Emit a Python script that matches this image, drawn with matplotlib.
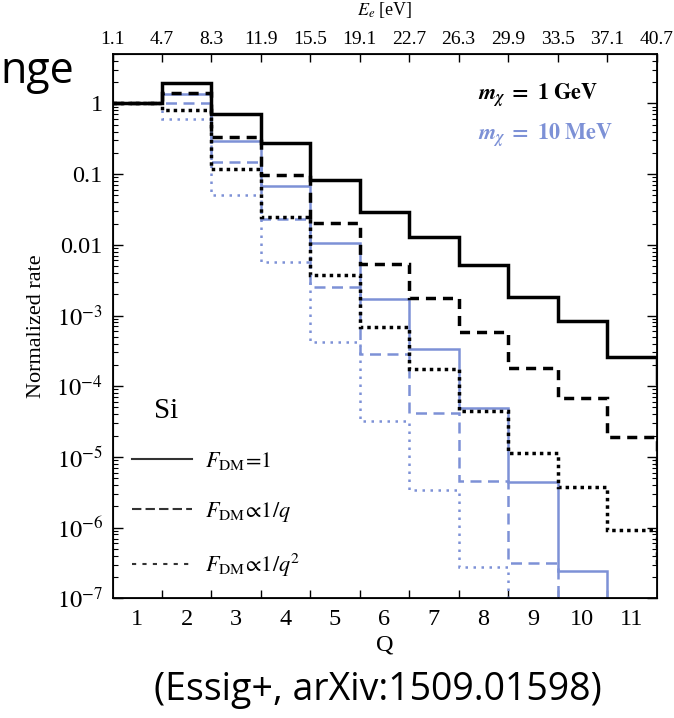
import numpy as np
import matplotlib
matplotlib.use("Agg")
import matplotlib.pyplot as plt
from matplotlib.lines import Line2D
from matplotlib.ticker import FixedLocator, LogLocator, NullFormatter

plt.rcParams["font.family"] = ["Liberation Serif", "DejaVu Serif"]
plt.rcParams["mathtext.fontset"] = "stix"

# ionisation bins Q (the 12th bin sits just past the right edge)
q_bins = np.arange(1, 13)
q_tick_labels = ["1", "2", "3", "4", "5", "6", "7", "8", "9", "10", "11"]
e_edge_labels = ["1.1", "4.7", "8.3", "11.9", "15.5", "19.1",
                 "22.7", "26.3", "29.9", "33.5", "37.1", "40.7"]

# normalized rates, m_chi = 1 GeV
rate_gev_f1 = [1, 1.95, 0.70, 0.277, 0.082, 0.0293, 0.013,
               5.16e-3, 1.84e-3, 8.4e-4, 2.6e-4, 1.1e-4]
rate_gev_q1 = [1, 1.41, 0.337, 0.097, 0.0201, 5.33e-3, 1.75e-3,
               5.8e-4, 1.79e-4, 6.9e-5, 1.92e-5, 8e-6]
rate_gev_q2 = [1, 0.82, 0.12, 0.0244, 3.73e-3, 6.8e-4, 1.73e-4,
               4.4e-5, 1.14e-5, 3.7e-6, 9.2e-7, 3.3e-7]

# normalized rates, m_chi = 10 MeV
rate_mev_f1 = [1, 1.38, 0.296, 0.0676, 0.0105, 1.69e-3, 3.4e-4,
               4.85e-5, 4.4e-6, 2.4e-7, 1e-8, 1e-9]
rate_mev_q1 = [1, 1.0, 0.149, 0.023, 2.55e-3, 2.9e-4, 4.2e-5,
               4.5e-6, 3.2e-7, 1e-8, 1e-9, 1e-10]
rate_mev_q2 = [1, 0.594, 0.0505, 5.75e-3, 4.25e-4, 3.2e-5, 3.4e-6,
               2.8e-7, 1e-8, 1e-9, 1e-10, 1e-11]

BLUE = "#7d91d6"
W, H = 674, 718

edges = np.append(q_bins - 0.5, q_bins[-1] + 0.5)

fig = plt.figure(figsize=(W / 100, H / 100), dpi=100)
ax = fig.add_axes([112.5 / W, 1 - 598.3 / H, 544 / W, 544.3 / H])


def steps(vals, color, lw, ls):
    p = ax.stairs(vals, edges, baseline=None, color=color, lw=lw,
                  linestyle=ls, zorder=3 if color == "k" else 2)
    p.set_joinstyle("miter")
    return p


# light-mediator curves go underneath
steps(rate_mev_f1, BLUE, 1.8, "-")
steps(rate_mev_q1, BLUE, 1.8, (0, (4.4, 2.6)))
steps(rate_mev_q2, BLUE, 1.8, (0, (1.0, 2.2)))

steps(rate_gev_f1, "k", 2.5, "-")
steps(rate_gev_q1, "k", 2.5, (0, (2.9, 2.0)))
steps(rate_gev_q2, "k", 2.5, (0, (1.0, 1.15)))

ax.set_xlim(0.5, 11.5)
ax.set_yscale("log")
ax.set_ylim(1e-7, 5.0)

# y axis: decades labelled, minor ticks in between, ticks on both sides
ax.yaxis.set_major_locator(FixedLocator([1e-7, 1e-6, 1e-5, 1e-4, 1e-3, 1e-2, 1e-1, 1]))
ax.set_yticklabels([r"$10^{-7}$", r"$10^{-6}$", r"$10^{-5}$", r"$10^{-4}$",
                    r"$10^{-3}$", "0.01", "0.1", "1"])
ax.yaxis.set_minor_locator(LogLocator(base=10, subs=np.arange(2, 10), numticks=20))
ax.yaxis.set_minor_formatter(NullFormatter())

# x axis: labels at bin centres, tick marks at bin edges
ax.xaxis.set_major_locator(FixedLocator(q_bins[:11]))
ax.set_xticklabels(q_tick_labels)
ax.xaxis.set_minor_locator(FixedLocator(edges[1:11]))

ax.tick_params(axis="y", which="major", direction="in", length=7, width=1,
               left=True, right=True, labelsize=17.5, pad=7)
ax.tick_params(axis="y", which="minor", direction="in", length=3.5, width=0.8,
               left=True, right=True)
ax.tick_params(axis="x", which="major", length=0, labelsize=17.5, pad=8, top=False)
ax.tick_params(axis="x", which="minor", direction="in", length=6, width=1,
               top=False)

for s in ax.spines.values():
    s.set_linewidth(1.3)

ax.set_xlabel("Q", fontsize=17.5, va="center")
ax.xaxis.set_label_coords(0.5, -0.086)
ax.set_ylabel("Normalized rate", fontsize=16, va="center")
ax.yaxis.set_label_coords(-0.14, 0.5)

# electron energy scale along the top, one label per bin edge
top = ax.twiny()
top.set_xlim(ax.get_xlim())
top.xaxis.set_major_locator(FixedLocator(edges[:12]))
top.set_xticklabels(e_edge_labels)
top.tick_params(axis="x", direction="in", length=6, width=1, labelsize=14, pad=4)
top.set_xlabel(r"$E_e$ [eV]", fontsize=13, va="center")
top.xaxis.set_label_coords(0.5, 1.081)

# annotations
ax.text((166 - 112.5) / 544, 0.345, "Si", fontsize=21, ha="center",
        va="center", transform=ax.transAxes)
ax.text(0.671, 0.913, r"$\mathbfit{m}_{\mathbfit{\chi}}\ \mathbf{=\ 1\ GeV}$",
        fontsize=16, transform=ax.transAxes, va="baseline")
ax.text(0.671, 0.840, r"$\mathbfit{m}_{\mathbfit{\chi}}\ \mathbf{=\ 10\ MeV}$",
        fontsize=16, color=BLUE, transform=ax.transAxes, va="baseline")

handles = [
    Line2D([], [], color="#333333", lw=1.5, ls="-"),
    Line2D([], [], color="#333333", lw=1.5, ls=(0, (4.5, 2))),
    Line2D([], [], color="#333333", lw=1.5, ls=(0, (2, 3))),
]
labels = [r"$F_{\mathrm{DM}}\!=\!1$",
          r"$F_{\mathrm{DM}}\!\propto\!1/q$",
          r"$F_{\mathrm{DM}}\!\propto\!1/q^2$"]
ax.legend(handles, labels, loc="upper left", bbox_to_anchor=(0.035, 0.272),
          frameon=False, fontsize=16, handlelength=2.7, handletextpad=0.6,
          labelspacing=1.25, borderpad=0, borderaxespad=0)

# slide remnants around the figure
fig.text(0.0, 1 - 83 / H, "nge", fontsize=31, family="Open Sans",
         ha="left", va="baseline")
fig.text(378 / W, 1 - 690 / H, "(Essig+, arXiv:1509.01598)", fontsize=27,
         family="Open Sans", ha="center", va="center")

fig.savefig("out.png", dpi=100)
